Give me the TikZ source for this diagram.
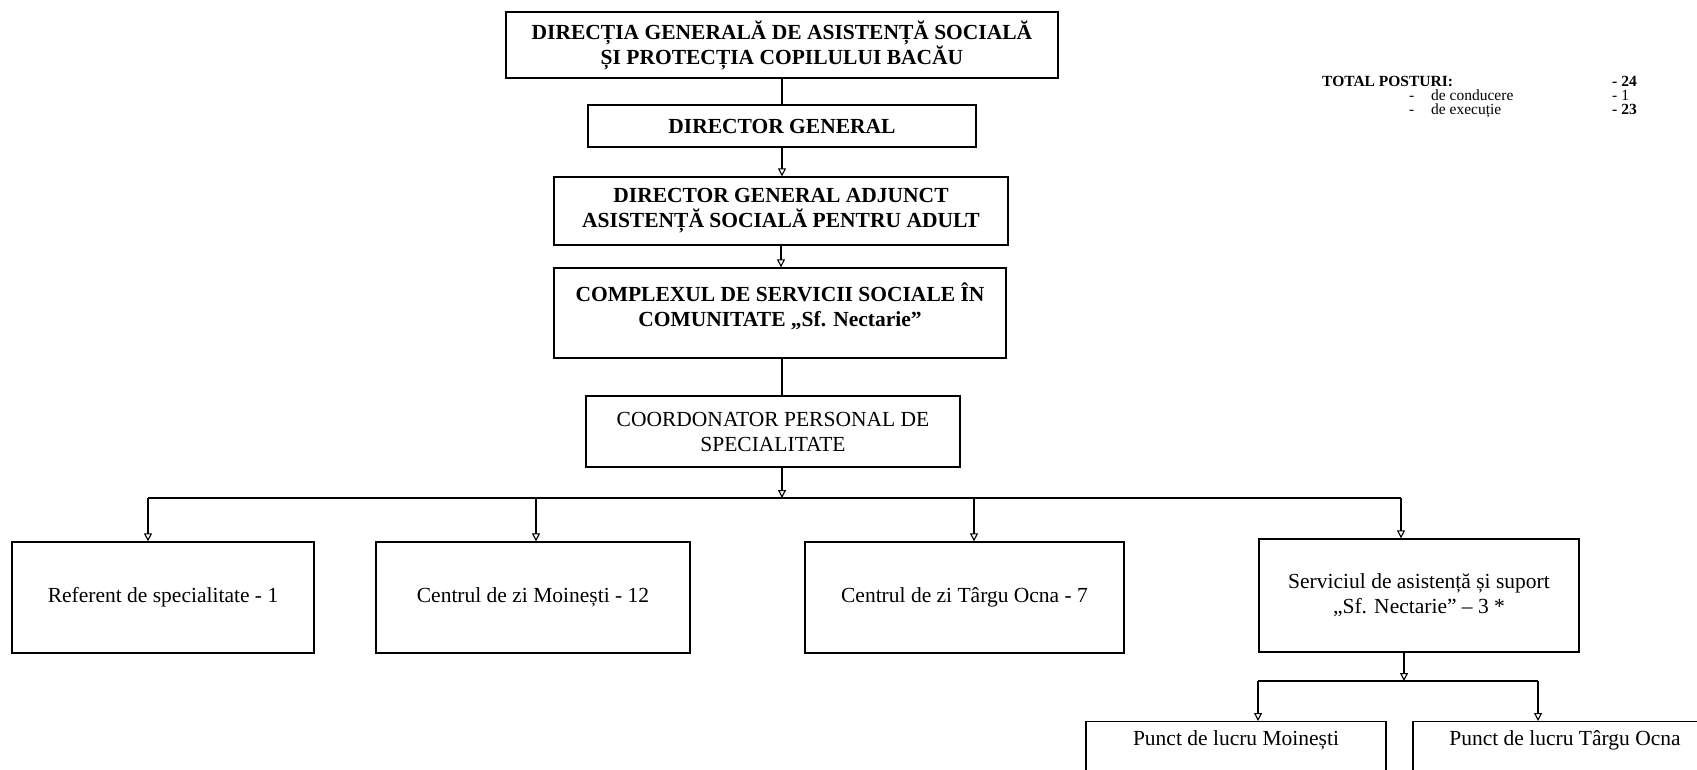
\documentclass[tikz,border=0pt]{standalone}
\usepackage{fontspec}
\setmainfont{Liberation Serif}
\usetikzlibrary{arrows.meta,calc}
\begin{document}
\begin{tikzpicture}[x=1pt,y=-1pt,
  box/.style={draw, line width=1.3pt, inner xsep=4pt, inner ysep=0pt, align=center,
    font=\fontsize{21.5}{25}\selectfont},
  bbox/.style={box, font=\fontsize{21.5}{25}\selectfont\bfseries},
  subbox/.style={draw, line width=1.3pt, inner xsep=4pt, inner ysep=9pt, align=center,
    anchor=north, font=\fontsize{21.5}{25}\selectfont},
  conn/.style={line width=1.1pt},
  arr/.style={conn, -{Triangle[open,width=8pt,length=8pt]}},
  rtxt/.style={anchor=base west, inner sep=0pt, font=\fontsize{15.5}{13}\selectfont},
  rbold/.style={rtxt, font=\fontsize{15.5}{13}\selectfont\bfseries}]
\useasboundingbox (0,0) rectangle (1697,769);
\fill[white] (0,0) rectangle (1697,769);
\clip (0,0) rectangle (1697,769);

% top chain
\node[bbox, minimum width=552pt, minimum height=66pt] (b1) at (782,45)
  {DIRECȚIA GENERALĂ DE ASISTENȚĂ SOCIALĂ\\ȘI PROTECȚIA COPILULUI BACĂU};
\node[bbox, minimum width=388pt, minimum height=42pt] (b2) at (782,126)
  {DIRECTOR GENERAL};
\node[bbox, minimum width=454pt, minimum height=68pt] (b3) at (781,211)
  {DIRECTOR GENERAL ADJUNCT\\ASISTENȚĂ SOCIALĂ PENTRU ADULT};
\node[bbox, minimum width=452pt, minimum height=90pt] (b4) at (780,313)
  {COMPLEXUL DE SERVICII SOCIALE ÎN\\COMUNITATE „Sf. Nectarie”\\[-8pt]\mbox{}};
\node[box, minimum width=374pt, minimum height=71pt] (b5) at (773,431.5)
  {COORDONATOR PERSONAL DE\\SPECIALITATE};

% row of services
\node[box, minimum width=302pt, minimum height=111pt] (r1) at (163,597.5)
  {Referent de specialitate - 1};
\node[box, minimum width=314pt, minimum height=111pt] (r2) at (533,597.5)
  {Centrul de zi Moinești - 12};
\node[box, minimum width=319pt, minimum height=111pt] (r3) at (964.5,597.5)
  {Centrul de zi Târgu Ocna - 7};
\node[box, minimum width=320pt, minimum height=113pt] (r4) at (1419,595.5)
  {Serviciul de asistență și suport\\„Sf. Nectarie” – 3 *};

% work points
\node[subbox, minimum width=300pt] (p1) at (1236,721)
  {Punct de lucru Moinești\\\mbox{}\\\mbox{}\\\mbox{}};
\node[subbox, minimum width=304pt] (p2) at (1565,721)
  {Punct de lucru Târgu Ocna\\\mbox{}\\\mbox{}\\\mbox{}};

% connectors of the chain
\draw[conn] (b1.south) -- (b1.south |- b2.north);
\draw[arr] (b2.south) -- (b2.south |- b3.north);
\draw[arr] (b3.south) -- (b3.south |- b4.north);
\coordinate (cx) at (782,313);
\draw[conn] (cx |- b4.south) -- (cx |- b5.north);

% main bus
\coordinate (busL) at (148,498);
\coordinate (busR) at (1401,498);
\coordinate (a2) at (536,498);
\coordinate (a3) at (974,498);
\draw[arr] (cx |- b5.south) -- (cx |- busL);
\draw[conn] (busL) -- (busR);
\draw[arr] (busL) -- (busL |- r1.north);
\draw[arr] (a2) -- (a2 |- r2.north);
\draw[arr] (a3) -- (a3 |- r3.north);
\draw[arr] (busR) -- (busR |- r4.north);

% sub bus
\coordinate (s0) at (1404,681);
\coordinate (sL) at (1258,681);
\coordinate (sR) at (1538,681);
\draw[arr] (s0 |- r4.south) -- (s0);
\draw[conn] (sL) -- (sR);
\draw[arr] (sL) -- (sL |- p1.north);
\draw[arr] (sR) -- (sR |- p2.north);

% totals
\node[rbold] (tot) at (1322,86) {TOTAL POSTURI:};
\node[rbold] (n24) at (1612,86) {- 24};
\node[rtxt] (d1) at (1409,100) {-};
\node[rtxt] (cond) at (1431,100) {de conducere};
\node[rtxt] (n1) at (1612,100) {- 1};
\node[rtxt] (d2) at (1409,114) {-};
\node[rtxt] (exe) at (1431,114) {de execuție};
\node[rbold] (n23) at (1612,114) {- 23};
\end{tikzpicture}
\end{document}
